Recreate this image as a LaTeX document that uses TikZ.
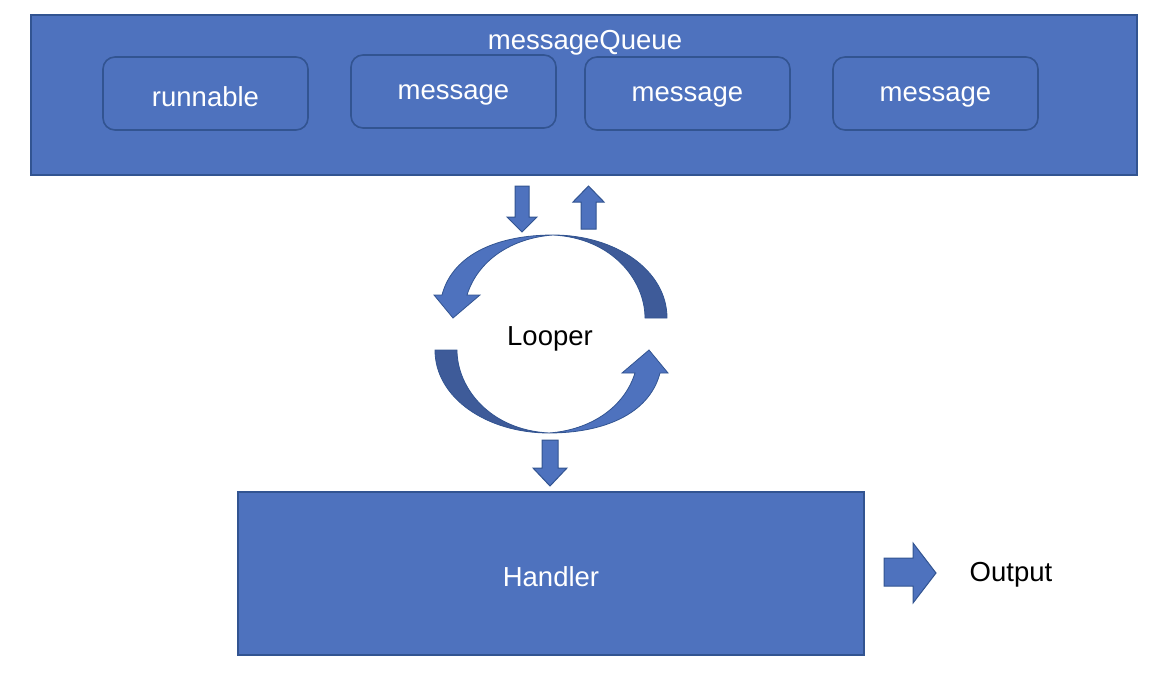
\documentclass[tikz,border=0pt]{standalone}
\usepackage{fontspec}
\setmainfont{Liberation Sans}
\definecolor{boxfill}{RGB}{78,114,190}
\definecolor{boxedge}{RGB}{50,84,145}
\definecolor{darkarc}{RGB}{62,91,153}
\tikzset{
  bigbox/.style={draw=boxedge, line width=1.6pt, fill=boxfill, inner sep=0pt},
  itembox/.style={draw=boxedge, line width=1.6pt, fill=boxfill, rounded corners=12pt,
    minimum width=205pt, minimum height=73pt, inner sep=0pt},
  wtext/.style={text=white, font=\fontsize{27.5}{33}\selectfont, yshift=-3pt},
  btext/.style={text=black, font=\fontsize{27.5}{33}\selectfont, yshift=-3pt},
  blockarrow/.style={fill=boxfill, draw=boxedge, line width=1pt, line join=miter},
  arcdark/.style={fill=darkarc, draw=boxedge, line width=0.8pt},
  arclight/.style={fill=boxfill, draw=boxedge, line width=0.8pt},
}
\begin{document}
\begin{tikzpicture}[x=1pt,y=-1pt]
\useasboundingbox (0,0) rectangle (1160,680);
% message queue
\node[bigbox, minimum width=1106pt, minimum height=160pt] (mq) at (584,95) {};
\node[wtext] (mqt) at (585,40) {messageQueue};
\node[itembox] (r1) at (205.5,93.5) {};
\node[wtext] at (r1.center) {runnable};
\node[itembox] (m1) at (453.5,91.5) {};
\node[wtext] at (m1.center) {message};
\node[itembox] (m2) at (687.5,93.5) {};
\node[wtext] at (m2.center) {message};
\node[itembox] (m3) at (935.5,93.5) {};
\node[wtext] at (m3.center) {message};
% arrows between queue and looper
\path[blockarrow] (515,186) -- (529,186) -- (529,217) -- (537,217) -- (522,232) -- (507,217) -- (515,217) -- cycle;
\path[blockarrow] (581,229) -- (596,229) -- (596,202) -- (604,202) -- (588.5,186) -- (573,202) -- (581,202) -- cycle;
% looper
\node[btext] (looper) at (550,336) {Looper};
\begin{scope}
  \path[arcdark] (553,235) .. controls (615,235) and (667,270) .. (667,318) -- (645,318)
     .. controls (645,280) and (612,238) .. (553,235) -- cycle;
  \path[arclight] (553,235) .. controls (512,238) and (478,260) .. (467,295) -- (480,295)
     -- (453,318) -- (434,295) -- (442,295) .. controls (453,253) and (500,235) .. (553,235) -- cycle;
\end{scope}
\begin{scope}[rotate around={180:(551,334)}]
  \path[arcdark] (553,235) .. controls (615,235) and (667,270) .. (667,318) -- (645,318)
     .. controls (645,280) and (612,238) .. (553,235) -- cycle;
  \path[arclight] (553,235) .. controls (512,238) and (478,260) .. (467,295) -- (480,295)
     -- (453,318) -- (434,295) -- (442,295) .. controls (453,253) and (500,235) .. (553,235) -- cycle;
\end{scope}
% arrow to handler
\path[blockarrow] (542,440) -- (558,440) -- (558,468) -- (567,468) -- (550,486) -- (533,468) -- (542,468) -- cycle;
% handler
\node[bigbox, minimum width=626pt, minimum height=163pt] (handler) at (551,573.5) {};
\node[wtext] at (handler.center) {Handler};
% output
\path[blockarrow] (884,558) -- (913,558) -- (913,543) -- (936,573) -- (913,603) -- (913,586) -- (884,586) -- cycle;
\node[btext] (out) at (1011,572) {Output};
\end{tikzpicture}
\end{document}
